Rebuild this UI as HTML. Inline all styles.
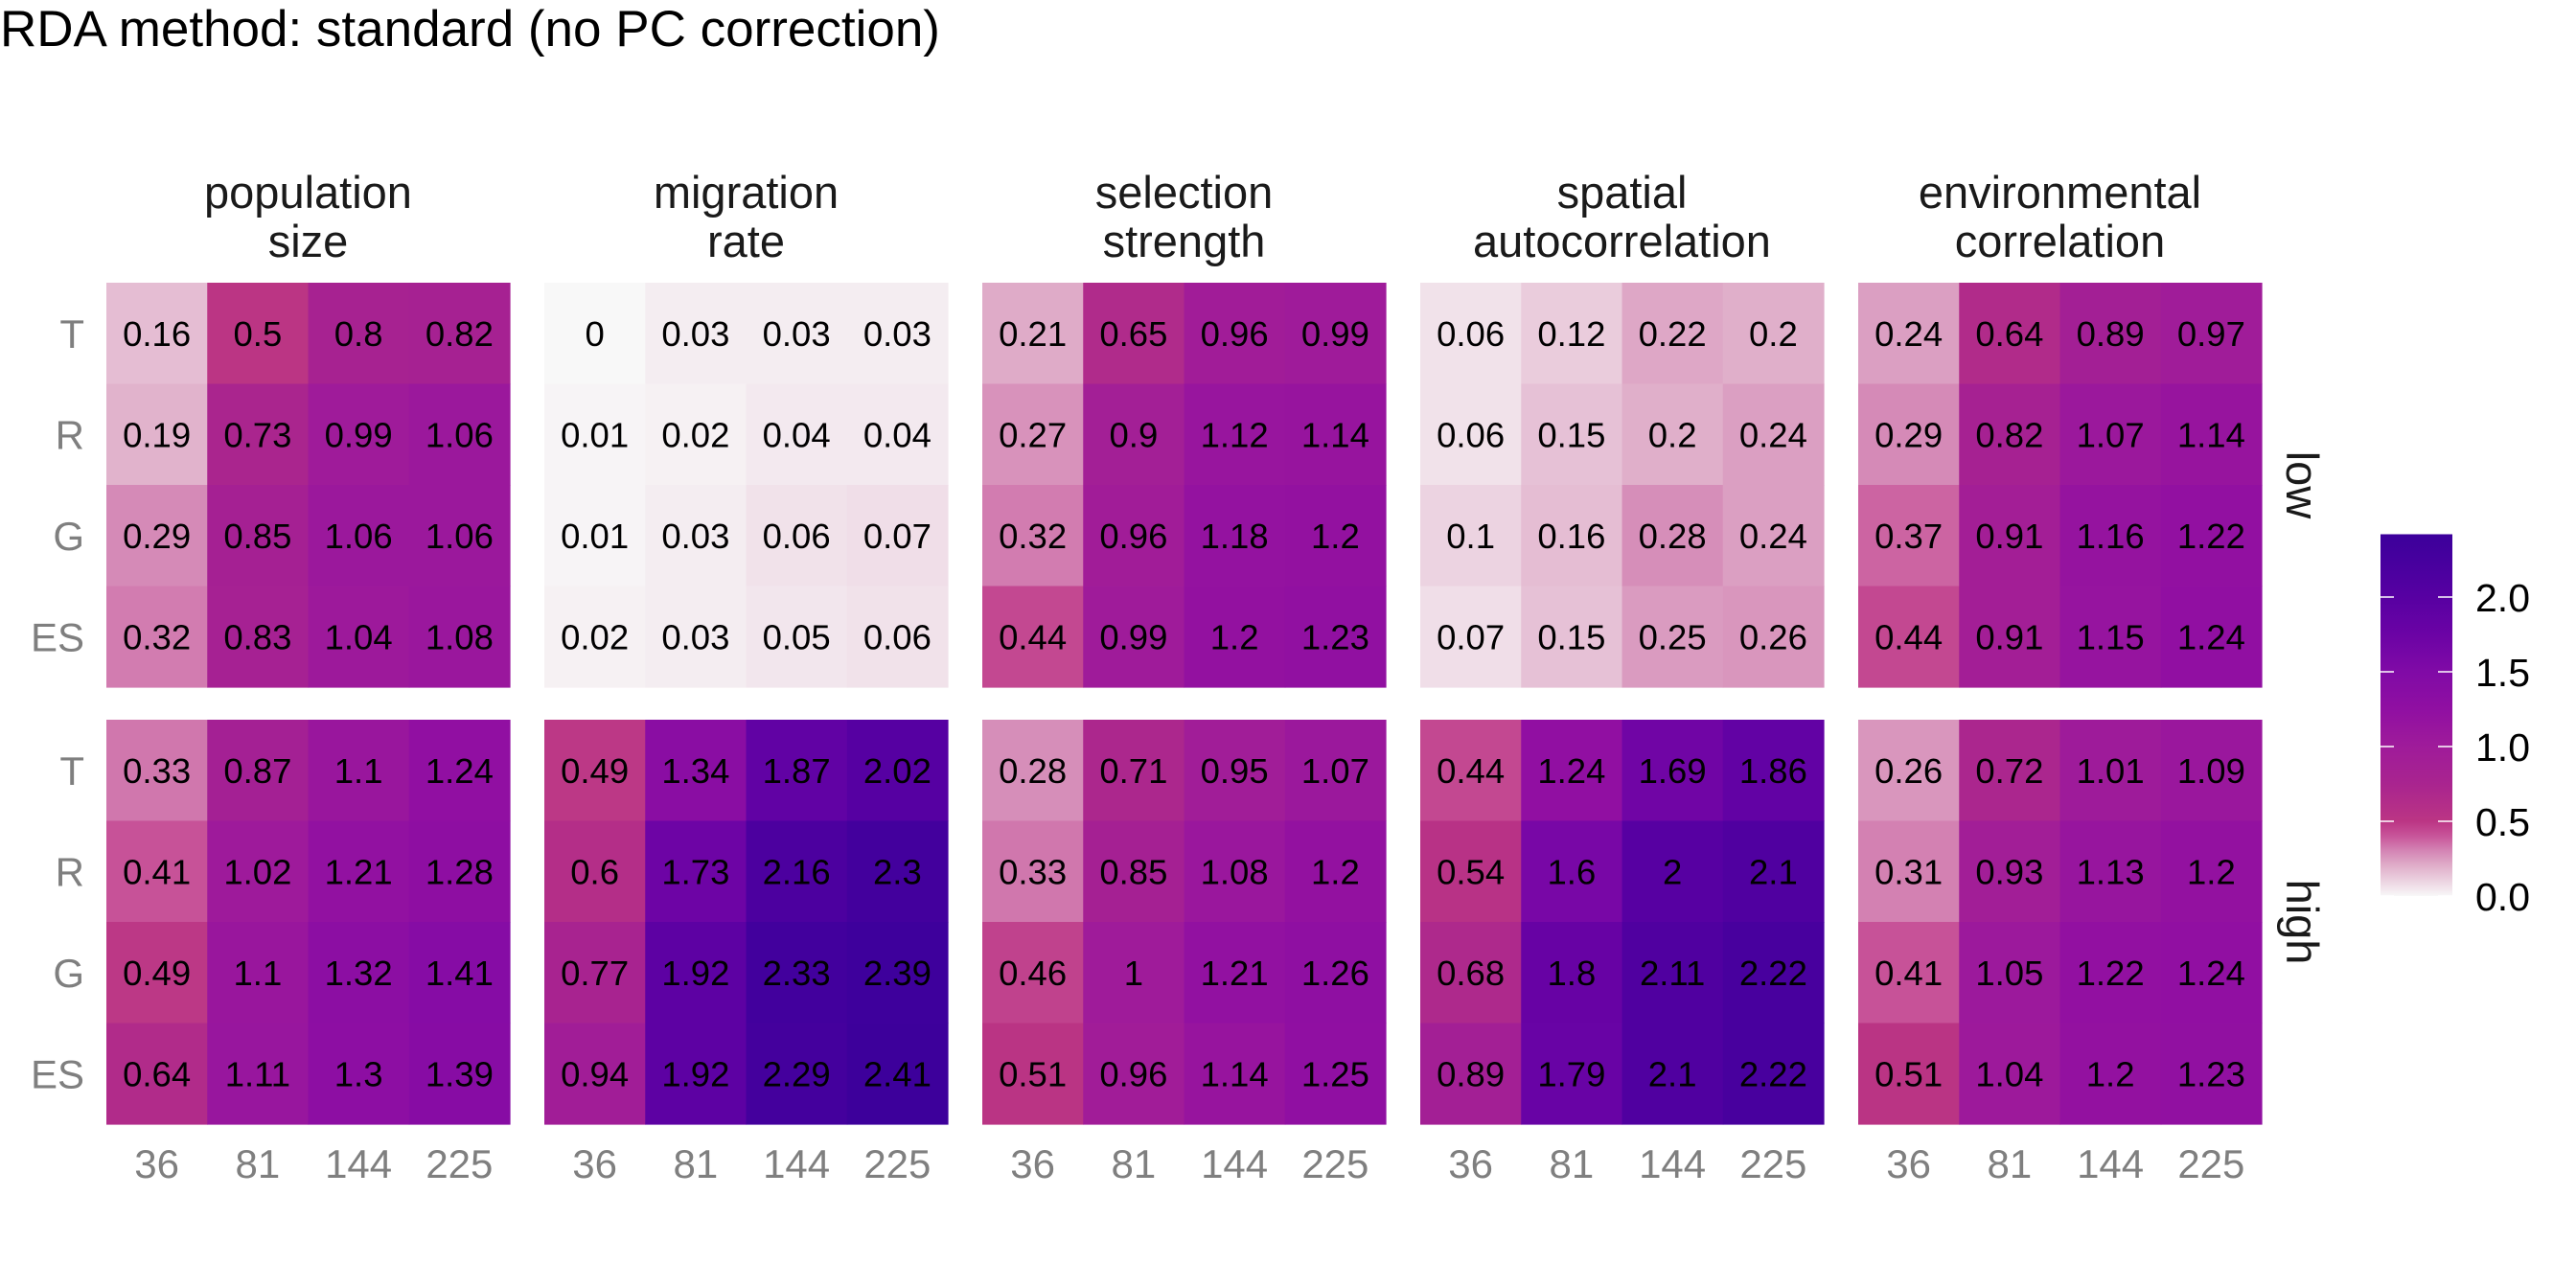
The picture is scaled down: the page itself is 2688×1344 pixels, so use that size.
<!DOCTYPE html>
<html><head><meta charset="utf-8">
<style>
html,body{margin:0;padding:0;background:#fff;}
svg{display:block;font-family:"Liberation Sans",Arial,sans-serif;}
</style></head>
<body>
<svg id="chart" width="2688" height="1344" viewBox="0 0 2688 1344" xmlns="http://www.w3.org/2000/svg">
<rect width="2688" height="1344" fill="#ffffff"/>
<text x="0" y="48" font-size="53" fill="#000">RDA method: standard (no PC correction)</text>
<g id="panels"></g>
<g id="legend"></g>
</svg>
<script>
const panelTitles = [["population","size"],["migration","rate"],["selection","strength"],["spatial","autocorrelation"],["environmental","correlation"]];
const rowLabels = ["T","R","G","ES"];
const colLabels = ["36","81","144","225"];
const levels = ["low","high"];
const lowValues = [
 [[0.16,0.5,0.8,0.82],[0.19,0.73,0.99,1.06],[0.29,0.85,1.06,1.06],[0.32,0.83,1.04,1.08]],
 [[0,0.03,0.03,0.03],[0.01,0.02,0.04,0.04],[0.01,0.03,0.06,0.07],[0.02,0.03,0.05,0.06]],
 [[0.21,0.65,0.96,0.99],[0.27,0.9,1.12,1.14],[0.32,0.96,1.18,1.2],[0.44,0.99,1.2,1.23]],
 [[0.06,0.12,0.22,0.2],[0.06,0.15,0.2,0.24],[0.1,0.16,0.28,0.24],[0.07,0.15,0.25,0.26]],
 [[0.24,0.64,0.89,0.97],[0.29,0.82,1.07,1.14],[0.37,0.91,1.16,1.22],[0.44,0.91,1.15,1.24]]
];
const highValues = [
 [[0.33,0.87,1.1,1.24],[0.41,1.02,1.21,1.28],[0.49,1.1,1.32,1.41],[0.64,1.11,1.3,1.39]],
 [[0.49,1.34,1.87,2.02],[0.6,1.73,2.16,2.3],[0.77,1.92,2.33,2.39],[0.94,1.92,2.29,2.41]],
 [[0.28,0.71,0.95,1.07],[0.33,0.85,1.08,1.2],[0.46,1,1.21,1.26],[0.51,0.96,1.14,1.25]],
 [[0.44,1.24,1.69,1.86],[0.54,1.6,2,2.1],[0.68,1.8,2.11,2.22],[0.89,1.79,2.1,2.22]],
 [[0.26,0.72,1.01,1.09],[0.31,0.93,1.13,1.2],[0.41,1.05,1.22,1.24],[0.51,1.04,1.2,1.23]]
];
const legendTicks = [0,0.5,1,1.5,2];
const legendLabels = ["0.0","0.5","1.0","1.5","2.0"];
const legendMax = 2.42;

const stops = [[0,"#f8f8f8"],[0.1,"#ecd3e1"],[0.2,"#e0afca"],[0.3,"#d486b5"],[0.4,"#c8559a"],[0.5,"#bb3584"],[0.75,"#a9248f"],[1.0,"#9f1b9a"],[1.25,"#900fa2"],[1.5,"#800aa6"],[1.75,"#6b03a5"],[2.0,"#5700a2"],[2.25,"#46009e"],[2.5,"#38009a"]];
function hex(c){return [1,3,5].map(i=>parseInt(c.substr(i,2),16));}
function color(v){
  for(let i=0;i<stops.length-1;i++){
    const [a,ca]=stops[i],[b,cb]=stops[i+1];
    if(v<=b){const t=Math.max(0,(v-a)/(b-a));const A=hex(ca),B=hex(cb);
      return "rgb("+A.map((x,k)=>Math.round(x+(B[k]-x)*t)).join(",")+")";}
  }
  return stops[stops.length-1][1];
}
const NS="http://www.w3.org/2000/svg";
function mk(tag,attrs,parent,text){const e=document.createElementNS(NS,tag);for(const k in attrs)e.setAttribute(k,attrs[k]);if(text!==undefined)e.textContent=text;parent.appendChild(e);return e;}

const panelX0=111, panelStep=457, panelW=421, cell=panelW/4;
const rowY0=[295,751], panelH=422, cellH=panelH/4;
const xPos=(p,c)=>panelX0+p*panelStep+c*cell;
const yPos=(l,r)=>rowY0[l]+r*cellH;
const G=document.getElementById("panels");
const allVals=[lowValues,highValues];

panelTitles.forEach((t,p)=>{
  const cx=panelX0+p*panelStep+panelW/2;
  const tt=mk("text",{x:cx,"text-anchor":"middle","font-size":47,fill:"#1a1a1a"},G);
  
  
  mk("tspan",{x:cx,y:217},tt,t[0]);
  mk("tspan",{x:cx,y:268},tt,t[1]);
  colLabels.forEach((c,ci)=>{
    const e=mk("text",{x:xPos(p,ci)+cell/2,y:1229,"text-anchor":"middle","font-size":42,fill:"#7f7f7f"},G,c);
    
    
  });
});
levels.forEach((lv,l)=>{
  rowLabels.forEach((r,ri)=>{
    const e=mk("text",{x:88,y:yPos(l,ri)+cellH/2+15,"text-anchor":"end","font-size":42,fill:"#7f7f7f"},G,r);
    
    
  });
  const cy=rowY0[l]+panelH/2;
  const s=mk("text",{x:0,y:0,"text-anchor":"middle","font-size":47,fill:"#1a1a1a",transform:"translate(2386,"+cy+") rotate(90)"},G,lv);
  
  
  panelTitles.forEach((t,p)=>{
    allVals[l][p].forEach((row,ri)=>{
      row.forEach((v,ci)=>{
        const r=mk("rect",{x:xPos(p,ci),y:yPos(l,ri),width:cell+0.6,height:cellH+0.6,fill:color(v)},G);
        
        
        const tx=mk("text",{x:xPos(p,ci)+cell/2,y:yPos(l,ri)+cellH/2+13,"text-anchor":"middle","font-size":36.5,fill:"#000"},G,String(v));
        
        
      });
    });
  });
});

const L=document.getElementById("legend");
const lx=2484,lw=75,ly0=935,pxPer=156;
const lTop=ly0-legendMax*pxPer;
const defs=mk("defs",{},L);
const grad=mk("linearGradient",{id:"lg",x1:0,y1:1,x2:0,y2:0},defs);
stops.forEach(([v,c])=>{if(v<=legendMax)mk("stop",{offset:(v/legendMax),"stop-color":c},grad);});
mk("stop",{offset:1,"stop-color":color(legendMax)},grad);
const bar=mk("rect",{x:lx,y:lTop,width:lw,height:legendMax*pxPer,fill:"url(#lg)"},L);


legendTicks.forEach((t,i)=>{
  const y=ly0-t*pxPer;
  mk("line",{x1:lx,x2:lx+14,y1:y,y2:y,stroke:"#fff","stroke-width":1.5},L);
  mk("line",{x1:lx+lw-15,x2:lx+lw,y1:y,y2:y,stroke:"#fff","stroke-width":1.5},L);
  const e=mk("text",{x:2583,y:y+15,"font-size":41,fill:"#000"},L,legendLabels[i]);
  
  
});
</script>
</body></html>
